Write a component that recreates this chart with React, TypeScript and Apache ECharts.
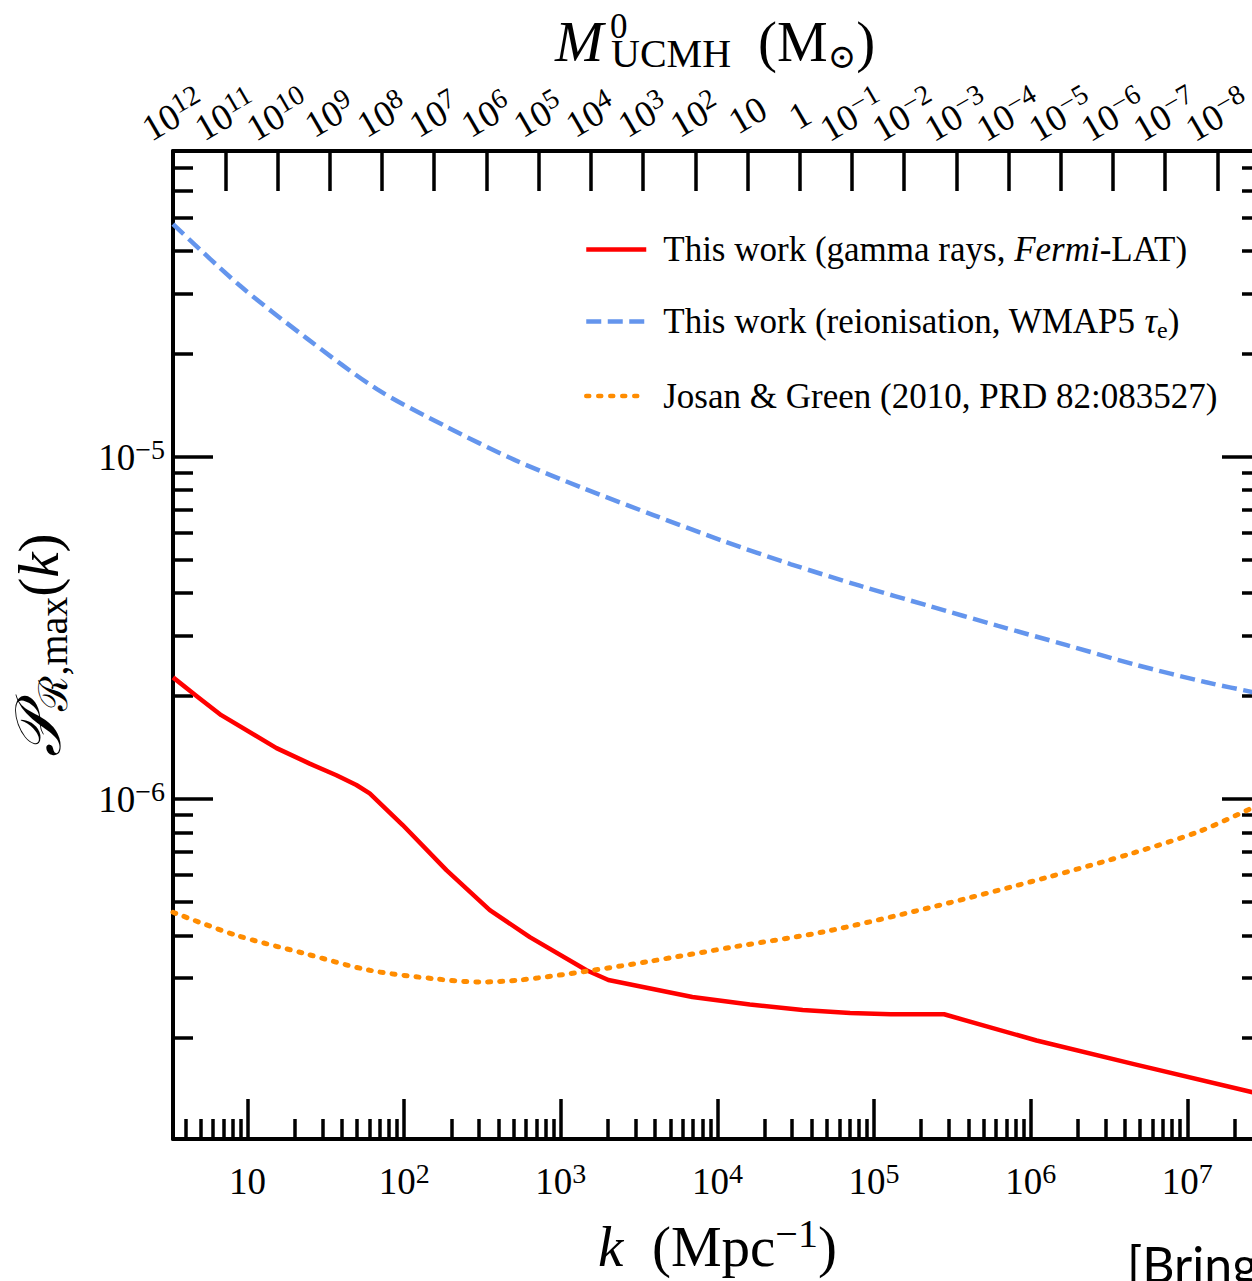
import React, { useEffect, useRef } from 'react';
import * as echarts from 'echarts';

const SERIF = '"Liberation Serif", "DejaVu Serif", serif';

// Plot ranges: wavenumber k (Mpc^-1) and the bound on the power spectrum
const K_MIN = 3.34;
const K_MAX = 3.0e7;
const P_MIN = 1.015e-7;
const P_MAX = 7.85e-5;
// Present-day UCMH mass for a given k: M = M_NORM * k^-3 (solar masses)
const M_NORM = 3.76e13;

// Gamma-ray limit (Fermi-LAT)
const gammaK = [3.34, 4.74, 6.79, 15.3, 24.9, 36.9, 49.5, 60.2, 97.8, 186, 352, 634, 1459, 2012, 6918, 1.61e4, 3.5e4, 7.03e4, 1.28e5, 2.8e5, 1.09e6, 4.56e6, 3.0e7];
const gammaP = [2.27e-6, 2.0e-6, 1.76e-6, 1.41e-6, 1.27e-6, 1.175e-6, 1.1e-6, 1.04e-6, 8.4e-7, 6.2e-7, 4.74e-7, 3.95e-7, 3.16e-7, 2.96e-7, 2.64e-7, 2.51e-7, 2.42e-7, 2.37e-7, 2.35e-7, 2.35e-7, 1.97e-7, 1.68e-7, 1.37e-7];

// Reionisation limit (WMAP5 optical depth)
const reionK = [3.34, 8.8, 24, 67, 184, 510, 1400, 3900, 1.07e4, 2.95e4, 8.2e4, 2.25e5, 6.2e5, 1.7e6, 4.7e6, 1.3e7, 3.0e7];
const reionP = [4.8e-5, 3.19e-5, 2.22e-5, 1.58e-5, 1.23e-5, 9.8e-6, 8.1e-6, 6.77e-6, 5.7e-6, 4.86e-6, 4.2e-6, 3.67e-6, 3.21e-6, 2.82e-6, 2.47e-6, 2.2e-6, 2.03e-6];

// Josan & Green (2010)
const jgK = [3.34, 8.47, 22.5, 60.2, 161, 304, 547, 1459, 3600, 1.32e4, 4.85e4, 2.45e5, 1.245e6, 4.56e6, 1.21e7, 3.0e7];
const jgP = [4.67e-7, 4.0e-7, 3.55e-7, 3.16e-7, 2.98e-7, 2.92e-7, 2.96e-7, 3.14e-7, 3.35e-7, 3.71e-7, 4.1e-7, 4.86e-7, 5.89e-7, 6.97e-7, 8.07e-7, 9.73e-7];

// Tick positions
const kMajor = [10, 1e2, 1e3, 1e4, 1e5, 1e6, 1e7];
const kDecades = [1, 10, 1e2, 1e3, 1e4, 1e5, 1e6, 1e7];
const pMajor = [1e-7, 1e-6, 1e-5];
const pDecades = [1e-7, 1e-6, 1e-5];
const pLabelled = [1e-6, 1e-5];
const minorSteps = [2, 3, 4, 5, 6, 7, 8, 9];
const mExponents = [12, 11, 10, 9, 8, 7, 6, 5, 4, 3, 2, 1, 0, -1, -2, -3, -4, -5, -6, -7, -8];

const seriesNames = [
  'This work (gamma rays, Fermi-LAT)',
  'This work (reionisation, WMAP5 τe)',
  'Josan & Green (2010, PRD 82:083527)',
];
const legendLabels: Record<string, string> = {
  [seriesNames[0]]: '{t|This work (gamma rays, }{i|Fermi}{t|-LAT)}',
  [seriesNames[1]]: '{t|This work (reionisation, WMAP5 }{i|τ}{sub|e}{t|)}',
  [seriesNames[2]]: '{t|Josan & Green (2010, PRD 82:083527)}',
};

const minorOf = (decades: number[], lo: number, hi: number) =>
  decades.flatMap((d) => minorSteps.map((s) => s * d)).filter((v) => v > lo && v < hi);

const pairs = (xs: number[], ys: number[]) => xs.map((x, i) => [x, ys[i]]);

function powLabel(v: number): string {
  const e = Math.round(Math.log10(v));
  if (e === 0) return '{b|1}';
  if (e === 1) return '{b|10}';
  return '{b|10}{s|' + (e < 0 ? '−' + -e : String(e)) + '}';
}

const tickRich = {
  b: { fontFamily: SERIF, fontSize: 37, lineHeight: 44, color: '#000' },
  s: { fontFamily: SERIF, fontSize: 28, lineHeight: 28, color: '#000', verticalAlign: 'top' },
};

const black = '#000';
const frameLine = { show: true, onZero: false, lineStyle: { color: black, width: 4 } };
const noLine = { show: false };
const noTick = { show: false };
const ticks = (values: number[], length: number) => ({
  show: true,
  inside: true,
  length,
  customValues: values,
  lineStyle: { color: black, width: 3.5 },
});
const noLabel = { show: false };
const noSplit = { show: false };

export default function App() {
  const ref = useRef<HTMLDivElement>(null);

  useEffect(() => {
    if (!ref.current) return;
    const chart = echarts.init(ref.current, undefined, { renderer: 'svg' });

    const kMinor = minorOf(kDecades, K_MIN, K_MAX);
    const pMinor = minorOf(pDecades, P_MIN, P_MAX);
    const mTicks = mExponents.map((e) => Math.pow(10, e));
    // Neighbouring rotated labels are split over two axes so none of them gets dropped
    const mEven = mExponents.filter((e) => e % 2 === 0).map((e) => Math.pow(10, e));
    const mOdd = mExponents.filter((e) => Math.abs(e % 2) === 1).map((e) => Math.pow(10, e));
    const mLow = M_NORM * Math.pow(K_MAX, -3);
    const mHigh = M_NORM * Math.pow(K_MIN, -3);

    const xBase = { type: 'log', min: K_MIN, max: K_MAX, splitLine: noSplit, minorTick: { show: false } };
    const yBase = { type: 'log', min: P_MIN, max: P_MAX, splitLine: noSplit, minorTick: { show: false } };
    const mBase = {
      type: 'log',
      position: 'top',
      inverse: true,
      min: mLow,
      max: mHigh,
      splitLine: noSplit,
      minorTick: { show: false },
    };
    const mLabels = (values: number[]) => ({
      customValues: values,
      formatter: powLabel,
      rotate: -30,
      align: 'center',
      verticalAlign: 'middle',
      margin: 36,
      showMinLabel: true,
      showMaxLabel: true,
      rich: tickRich,
    });

    chart.setOption({
      animation: false,
      backgroundColor: '#fff',
      grid: { left: 173, top: 151, width: 1089, height: 988, containLabel: false, outerBoundsMode: 'none' },
      xAxis: [
        {
          ...xBase,
          position: 'bottom',
          axisLine: frameLine,
          axisTick: ticks(kMajor, 40),
          axisLabel: { customValues: kMajor, formatter: powLabel, margin: 20, rich: tickRich },
          name: '{i|k}{r|  (Mpc}{s|−1}{r|)}',
          nameLocation: 'middle',
          nameGap: 74,
          nameTextStyle: {
            rich: {
              i: { fontFamily: SERIF, fontStyle: 'italic', fontSize: 57, lineHeight: 66, color: black },
              r: { fontFamily: SERIF, fontSize: 57, lineHeight: 66, color: black },
              s: { fontFamily: SERIF, fontSize: 40, lineHeight: 40, color: black, verticalAlign: 'top' },
            },
          },
        },
        {
          ...xBase,
          position: 'bottom',
          axisLine: noLine,
          axisTick: ticks(kMinor, 20),
          axisLabel: noLabel,
        },
        { ...mBase, axisLine: frameLine, axisTick: ticks(mTicks, 40), axisLabel: noLabel },
        { ...mBase, axisLine: noLine, axisTick: noTick, axisLabel: mLabels(mEven) },
        { ...mBase, axisLine: noLine, axisTick: noTick, axisLabel: mLabels(mOdd) },
      ],
      yAxis: [
        {
          ...yBase,
          position: 'left',
          axisLine: frameLine,
          axisTick: ticks(pMajor, 40),
          axisLabel: { customValues: pLabelled, formatter: powLabel, margin: 8, rich: tickRich },
          name: '{c|𝒫}{s|ℛ,max}{r|(}{i|k}{r|)}',
          nameLocation: 'middle',
          nameRotate: 90,
          nameGap: 100,
          nameTextStyle: {
            rich: {
              c: { fontFamily: SERIF, fontStyle: 'italic', fontSize: 64, lineHeight: 70, color: black },
              s: { fontFamily: SERIF, fontSize: 40, lineHeight: 44, color: black, verticalAlign: 'bottom' },
              r: { fontFamily: SERIF, fontSize: 57, lineHeight: 70, color: black },
              i: { fontFamily: SERIF, fontStyle: 'italic', fontSize: 57, lineHeight: 70, color: black },
            },
          },
        },
        { ...yBase, position: 'left', axisLine: noLine, axisTick: ticks(pMinor, 20), axisLabel: noLabel },
        { ...yBase, position: 'right', axisLine: frameLine, axisTick: ticks(pMajor, 40), axisLabel: noLabel },
        { ...yBase, position: 'right', axisLine: noLine, axisTick: ticks(pMinor, 20), axisLabel: noLabel },
      ],
      legend: {
        orient: 'vertical',
        left: 584,
        top: 232,
        padding: 0,
        itemWidth: 60,
        itemHeight: 14,
        itemGap: 37,
        selectedMode: false,
        itemStyle: { opacity: 0 },
        lineStyle: { width: 4.5 },
        data: seriesNames,
        formatter: (name: string) => legendLabels[name],
        textStyle: {
          padding: [0, 0, 0, 12],
          rich: {
            t: { fontFamily: SERIF, fontSize: 35, lineHeight: 40, color: black },
            i: { fontFamily: SERIF, fontStyle: 'italic', fontSize: 35, lineHeight: 40, color: black },
            sub: { fontFamily: SERIF, fontSize: 24, lineHeight: 24, color: black, verticalAlign: 'bottom' },
          },
        },
      },
      graphic: [
        {
          // Top axis title: M^0_UCMH (M_sun), superscript stacked above the subscript
          type: 'text',
          x: 555,
          y: 41,
          style: {
            text: '{m|M}{p|0}{u|UCMH}{r|(M}{o|⊙}{r|)}',
            fill: black,
            align: 'left',
            verticalAlign: 'middle',
            textAlign: 'left',
            textVerticalAlign: 'middle',
            rich: {
              m: { fontFamily: SERIF, fontStyle: 'italic', fontSize: 58, lineHeight: 64, width: 55, fill: black },
              p: { fontFamily: SERIF, fontSize: 35, lineHeight: 34, width: 1, fill: black, verticalAlign: 'top' },
              u: { fontFamily: SERIF, fontSize: 40, lineHeight: 30, width: 147, fill: black, verticalAlign: 'bottom' },
              r: { fontFamily: SERIF, fontSize: 57, lineHeight: 64, fill: black },
              o: { fontFamily: SERIF, fontSize: 34, lineHeight: 40, fill: black, verticalAlign: 'bottom' },
            },
          },
        },
        {
          type: 'text',
          x: 1127,
          y: 1239,
          style: { text: '[Bringmann, Scott & Akrami 2012]', fontFamily: 'Lato', fontSize: 50, fill: black, align: 'left', verticalAlign: 'top', textAlign: 'left', textVerticalAlign: 'top' },
        },
      ],
      series: [
        {
          name: seriesNames[0],
          type: 'line',
          data: pairs(gammaK, gammaP),
          symbol: 'none',
          showSymbol: false,
          silent: true,
          lineStyle: { color: '#ff0000', width: 4.5, join: 'round' },
          itemStyle: { color: '#ff0000' },
        },
        {
          name: seriesNames[1],
          type: 'line',
          data: pairs(reionK, reionP),
          symbol: 'none',
          showSymbol: false,
          silent: true,
          smooth: 0.3,
          lineStyle: { color: '#6495ed', width: 4.5, type: [15, 6.5] },
          itemStyle: { color: '#6495ed' },
        },
        {
          name: seriesNames[2],
          type: 'line',
          data: pairs(jgK, jgP),
          symbol: 'none',
          showSymbol: false,
          silent: true,
          smooth: 0.3,
          lineStyle: { color: '#ff8c00', width: 5, type: [3, 9], cap: 'round' },
          itemStyle: { color: '#ff8c00' },
        },
      ],
    });

    return () => chart.dispose();
  }, []);

  return <div ref={ref} style={{ position: 'absolute', left: 0, top: 0, width: 1252, height: 1281, background: '#fff' }} />;
}
